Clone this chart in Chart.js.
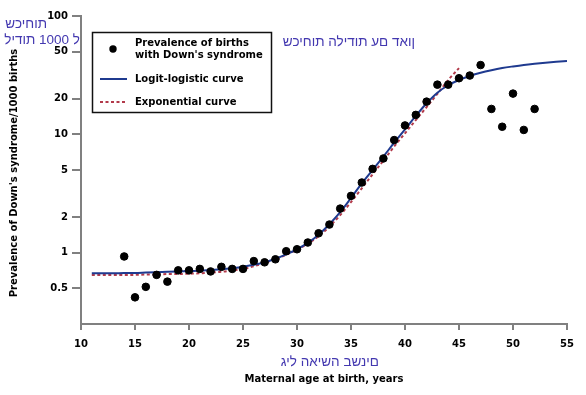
<!DOCTYPE html>
<html>
<head>
<meta charset="utf-8">
<script src="https://cdn.jsdelivr.net/npm/chart.js@4"></script>
<style>
  body { margin: 0; background: #fff; }
  #wrap { width: 586px; height: 395px; }
</style>
</head>
<body>
<div id="wrap"><canvas id="myChart" width="586" height="395"></canvas></div>
<script>
// observed prevalence per 1000 births, by maternal age
const obsAges = [14, 15, 16, 17, 18, 19, 20, 21, 22, 23, 24, 25, 26, 27, 28, 29, 30, 31, 32, 33,
  34, 35, 36, 37, 38, 39, 40, 41, 42, 43, 44, 45, 46, 47, 48, 49, 50, 51, 52];
const obsValues = [0.93, 0.42, 0.515, 0.65, 0.57, 0.71, 0.71, 0.73, 0.695, 0.76, 0.73, 0.73, 0.85, 0.83, 0.88, 1.03, 1.07, 1.22, 1.46, 1.73,
  2.36, 3.02, 3.92, 5.11, 6.26, 8.95, 11.9, 14.6, 18.9, 26.3, 26.3, 29.8, 31.4, 38.5, 16.4, 11.6, 22.1, 10.9, 16.4];

// fitted curves
const logitAges = [11, 12, 13, 14, 15, 16, 17, 18, 19, 20, 21, 22, 23, 24, 25, 26, 27, 28, 29, 30, 31, 32, 33,
  34, 35, 36, 37, 38, 39, 40, 41, 42, 43, 44, 45, 46, 47, 48, 49, 50, 51, 52, 53, 54, 55];
const logitValues = [0.67, 0.67, 0.67, 0.675, 0.675, 0.68, 0.685, 0.69, 0.695, 0.70, 0.705, 0.715, 0.725, 0.74, 0.76, 0.79, 0.83, 0.89, 0.97, 1.07, 1.21, 1.42, 1.74,
  2.2, 2.9, 3.85, 5.0, 6.5, 8.5, 11.0, 14.3, 18.3, 22.5, 26.0, 28.8, 31.1, 33.1, 34.8, 36.3, 37.5, 38.6, 39.5, 40.3, 41.0, 41.6];

const expAges = [11, 12, 13, 14, 15, 16, 17, 18, 19, 20, 21, 22, 23, 24, 25, 26, 27, 28, 29, 30, 31, 32, 33,
  34, 35, 36, 37, 38, 39, 40, 41, 42, 43, 44, 45];
const expValues = [0.65, 0.65, 0.65, 0.65, 0.65, 0.655, 0.655, 0.66, 0.66, 0.665, 0.67, 0.68, 0.69, 0.71, 0.73, 0.77, 0.82, 0.88, 0.96, 1.06, 1.19, 1.38, 1.66,
  2.08, 2.68, 3.5, 4.6, 6.0, 7.9, 10.2, 13.2, 17.0, 22.0, 28.8, 36.3];

const xTicks = [10, 15, 20, 25, 30, 35, 40, 45, 50, 55];
const yTicks = [0.5, 1, 2, 5, 10, 20, 50, 100];

// hebrew labels (logical order)
const hebYTitle1 = "שכיחות";
const hebYTitle2 = "לידות 1000 ל";
const hebTitle = "שכיחות הלידות עם דאון";
const hebXTitle = "גיל האישה בשנים";

const BLUE = "#1f3a8f";
const RED = "#b23a4a";
const HEB = "#4338b0";
const AXIS = "#808080";
const FONT = "'DejaVu Sans', Verdana, sans-serif";
const HFONT = "'Liberation Sans', 'DejaVu Sans', sans-serif";

const toXY = (xs, ys) => xs.map((x, i) => ({ x: x, y: ys[i] }));

// the renderer lays text out left to right only, so put RTL words in visual order
function rtlVisual(s) {
  return s
    .split(" ")
    .reverse()
    .map((w) => (/[\u0590-\u05FF]/.test(w) ? [...w].reverse().join("") : w))
    .join(" ");
}

//legend box and titles
const decorPlugin = {
  id: "decor",
  afterDraw(chart) {
    const ctx = chart.ctx;
    ctx.save();

    // legend
    ctx.fillStyle = "#fff";
    ctx.fillRect(92, 32, 180, 81);
    ctx.strokeStyle = "#111";
    ctx.lineWidth = 1.5;
    ctx.strokeRect(92.5, 32.5, 179, 80);

    ctx.fillStyle = "#000";
    ctx.beginPath();
    ctx.arc(113, 49, 3.7, 0, Math.PI * 2);
    ctx.fill();

    ctx.lineWidth = 2;
    ctx.strokeStyle = BLUE;
    ctx.beginPath();
    ctx.moveTo(100, 79);
    ctx.lineTo(127, 79);
    ctx.stroke();

    ctx.strokeStyle = RED;
    ctx.setLineDash([3, 2.5]);
    ctx.beginPath();
    ctx.moveTo(100, 102);
    ctx.lineTo(127, 102);
    ctx.stroke();
    ctx.setLineDash([]);

    ctx.font = "bold 10px " + FONT;
    ctx.fillStyle = "#000";
    ctx.textAlign = "left";
    ctx.textBaseline = "middle";
    ctx.fillText("Prevalence of births", 135, 43);
    ctx.fillText("with Down's syndrome", 135, 55);
    ctx.fillText("Logit-logistic curve", 135, 79);
    ctx.fillText("Exponential curve", 135, 102);

    // x axis title
    ctx.textAlign = "center";
    ctx.fillText("Maternal age at birth, years", 324, 379);

    // hebrew
    ctx.font = "13.5px " + HFONT;
    ctx.fillStyle = HEB;
    ctx.textAlign = "right";
    ctx.fillText(rtlVisual(hebYTitle1), 47, 24);
    ctx.fillText(rtlVisual(hebYTitle2), 80, 40);
    ctx.fillText(rtlVisual(hebTitle), 415, 42);
    ctx.fillText(rtlVisual(hebXTitle), 379, 362);

    // y axis title
    ctx.font = "bold 10px " + FONT;
    ctx.fillStyle = "#000";
    ctx.textAlign = "center";
    ctx.translate(14, 173);
    ctx.rotate(-Math.PI / 2);
    ctx.fillText("Prevalence of Down's syndrome/1000 births", 0, 0);

    ctx.restore();
  },
};

function initChart() {
  const config = {
    type: "scatter",
    data: {
      datasets: [
        {
          label: "Prevalence of births with Down's syndrome",
          data: toXY(obsAges, obsValues),
          backgroundColor: "#000",
          borderColor: "#000",
          pointRadius: 3.8,
          pointHoverRadius: 3.8,
        },
        {
          label: "Logit-logistic curve",
          data: toXY(logitAges, logitValues),
          showLine: true,
          borderColor: BLUE,
          borderWidth: 2,
          pointRadius: 0,
          cubicInterpolationMode: "monotone",
        },
        {
          label: "Exponential curve",
          data: toXY(expAges, expValues),
          showLine: true,
          borderColor: RED,
          borderWidth: 2,
          borderDash: [3, 2.5],
          pointRadius: 0,
          cubicInterpolationMode: "monotone",
        },
      ],
    },
    options: {
      responsive: false,
      animation: false,
      layout: { padding: { left: 0, right: 19, top: 16, bottom: 0 } },
      plugins: {
        legend: { display: false },
        title: { display: false },
        tooltip: { enabled: false },
      },
      scales: {
        x: {
          type: "linear",
          min: 10,
          max: 55,
          afterBuildTicks: (scale) => {
            scale.ticks = xTicks.map((v) => ({ value: v }));
          },
          afterFit: (scale) => {
            scale.height = 71;
          },
          grid: { drawOnChartArea: false, tickLength: 6, color: AXIS, lineWidth: 2 },
          border: { color: AXIS, width: 2 },
          ticks: {
            color: "#000",
            padding: 8,
            maxRotation: 0,
            font: { family: FONT, size: 10, weight: "bold" },
          },
        },
        y: {
          type: "logarithmic",
          min: 0.25,
          max: 100,
          afterBuildTicks: (scale) => {
            scale.ticks = yTicks.map((v) => ({ value: v }));
          },
          afterFit: (scale) => {
            scale.width = 81;
          },
          grid: { drawOnChartArea: false, tickLength: 9, color: AXIS, lineWidth: 2 },
          border: { color: AXIS, width: 2 },
          ticks: {
            color: "#000",
            padding: 4,
            font: { family: FONT, size: 10, weight: "bold" },
            callback: (v) => String(v),
          },
        },
      },
    },
    plugins: [decorPlugin],
  };

  const ctx = document.getElementById("myChart").getContext("2d");
  return new Chart(ctx, config);
}

initChart();
</script>
</body>
</html>
